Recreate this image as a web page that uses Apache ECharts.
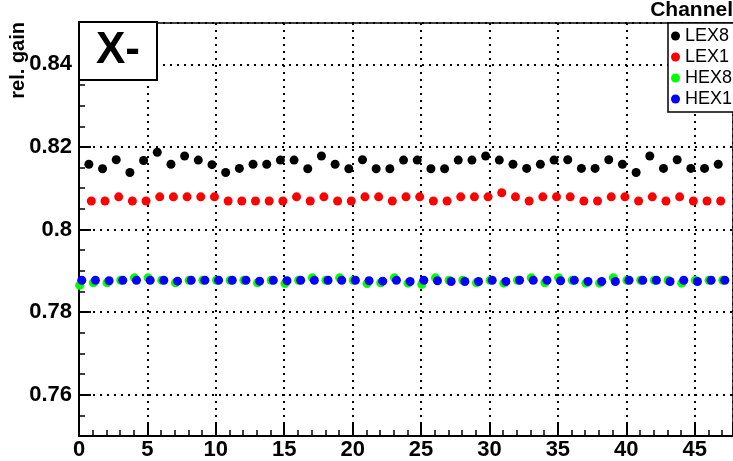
<!DOCTYPE html>
<html><head><meta charset="utf-8">
<script src="https://cdn.jsdelivr.net/npm/echarts@6/dist/echarts.min.js"></script>
<style>html,body{margin:0;padding:0;background:#fff}#c{width:733px;height:461px}</style>
</head><body><div id="c"></div>
<script>
// channel numbers
const channels = [0,1,2,3,4,5,6,7,8,9,10,11,12,13,14,15,16,17,18,19,20,21,22,23,24,25,26,27,28,29,30,31,32,33,34,35,36,37,38,39,40,41,42,43,44,45,46,47];
// x shift of each series' markers (as drawn in the original)
const xShift = {LEX8: 0.72, LEX1: 0.9, HEX8: 0.05, HEX1: 0.2};
// relative gain values
const lex8 = [0.8158,0.8147,0.8169,0.8138,0.8167,0.8187,0.8158,0.8178,0.8168,0.8157,0.8138,0.8148,0.8158,0.8158,0.8168,0.8168,0.8147,0.8178,0.8158,0.8147,0.8169,0.8147,0.8147,0.8168,0.8168,0.8147,0.8147,0.8168,0.8168,0.8178,0.8168,0.8158,0.8148,0.8158,0.8168,0.8169,0.8148,0.8148,0.8169,0.8158,0.8138,0.8178,0.8148,0.8169,0.8148,0.8148,0.8158];
const lex1 = [0.8069,0.8069,0.8079,0.8069,0.8069,0.8079,0.8079,0.8079,0.8079,0.8079,0.8069,0.8069,0.8069,0.8069,0.8069,0.8079,0.8069,0.8079,0.8069,0.8069,0.8079,0.8079,0.8069,0.8079,0.8079,0.8069,0.8069,0.8079,0.8079,0.8079,0.8089,0.8079,0.8069,0.8079,0.8079,0.8079,0.8069,0.8069,0.8079,0.8079,0.8069,0.8079,0.8069,0.8079,0.8069,0.8069,0.8069];
const hex8 = [0.7865,0.7871,0.7871,0.7877,0.7883,0.7883,0.7877,0.7871,0.7877,0.7877,0.7877,0.7877,0.7877,0.7871,0.7877,0.7869,0.7877,0.7883,0.7877,0.7883,0.7877,0.7869,0.7871,0.7883,0.7870,0.7867,0.7883,0.7877,0.7877,0.7871,0.7877,0.7870,0.7877,0.7883,0.7871,0.7883,0.7877,0.7870,0.7870,0.7883,0.7877,0.7877,0.7877,0.7877,0.7870,0.7877,0.7877,0.7877];
const hex1 = [0.7877,0.7877,0.7876,0.7877,0.7877,0.7877,0.7877,0.7875,0.7877,0.7877,0.7877,0.7877,0.7877,0.7875,0.7877,0.7876,0.7877,0.7877,0.7877,0.7877,0.7877,0.7876,0.7875,0.7877,0.7874,0.7877,0.7876,0.7874,0.7874,0.7874,0.7877,0.7874,0.7877,0.7877,0.7877,0.7876,0.7877,0.7874,0.7874,0.7874,0.7877,0.7877,0.7877,0.7874,0.7877,0.7874,0.7877,0.7877];
const seriesNames = ['LEX8','LEX1','HEX8','HEX1'];
const seriesColors = {LEX8:'#000000', LEX1:'#ff0000', HEX8:'#00ff00', HEX1:'#0000ff'};
const seriesValues = {LEX8: lex8, LEX1: lex1, HEX8: hex8, HEX1: hex1};
const titleText = 'X-';
const xTitle = 'Channel';
const yTitle = 'rel. gain';

const FONT = 'Liberation Sans';
const chart = echarts.init(document.getElementById('c'), null, {renderer: 'canvas'});

function pts(name) {
  return seriesValues[name].map((v, i) => [channels[i] + xShift[name], v]);
}

const option = {
  animation: false,
  backgroundColor: '#fff',
  grid: {left: 79, right: 0, top: 23, bottom: 23.4, show: true, borderColor: '#000', borderWidth: 1.5, backgroundColor: 'transparent'},
  title: {
    text: titleText, left: 79, top: 22,
    padding: [7, 17, 7, 17],
    borderColor: '#000', borderWidth: 2, backgroundColor: '#fff',
    textStyle: {fontFamily: FONT, fontWeight: 'bold', fontSize: 44, color: '#000', lineHeight: 44}
  },
  legend: {
    data: ['LEX8','LEX1','HEX8','HEX1'],
    orient: 'vertical', left: 668, top: 23,
    padding: [4, 8, 4, 3], itemGap: 3,
    itemWidth: 9, itemHeight: 9, icon: 'circle',
    borderColor: '#000', borderWidth: 1.5, backgroundColor: '#fff',
    textStyle: {fontFamily: FONT, fontSize: 18, color: '#000', lineHeight: 18}
  },
  xAxis: {
    type: 'value', min: 0, max: 47.8, interval: 5,
    axisLine: {show: true, lineStyle: {color: '#000', width: 2}},
    axisTick: {show: true, inside: true, length: 12, lineStyle: {color: '#000', width: 2}},
    minorTick: {show: true, splitNumber: 5, length: 6, lineStyle: {color: '#000', width: 1.5}},
    axisLabel: {showMaxLabel: false, fontFamily: FONT, fontWeight: 'bold', fontSize: 22, color: '#000', margin: 3},
    splitLine: {show: true, lineStyle: {color: '#000', width: 2, type: [2, 5]}}
  },
  yAxis: {
    type: 'value', min: 0.75, max: 0.85, splitNumber: 5,
    axisLine: {show: true, lineStyle: {color: '#000', width: 2}},
    axisTick: {show: true, inside: true, length: 12, lineStyle: {color: '#000', width: 2}},
    minorTick: {show: true, splitNumber: 4, length: 6, lineStyle: {color: '#000', width: 1.5}},
    axisLabel: {showMinLabel: false, showMaxLabel: false, fontFamily: FONT, fontWeight: 'bold', fontSize: 22, color: '#000', margin: 7},
    splitLine: {show: true, lineStyle: {color: '#000', width: 2, type: [2, 5]}}
  },
  graphic: [
    {type: 'text', right: 0, top: 0, style: {text: xTitle, font: 'bold 21px "Liberation Sans"', fill: '#000'}},
    {type: 'text', x: 18, y: 22, rotation: Math.PI / 2,
     style: {text: yTitle, font: 'bold 20px "Liberation Sans"', fill: '#000', align: 'right', verticalAlign: 'middle'}}
  ],
  series: seriesNames.map(name => ({
    name: name, type: 'scatter', symbol: 'circle', symbolSize: 9,
    itemStyle: {color: seriesColors[name], opacity: 1},
    data: pts(name)
  }))
};
chart.setOption(option);
</script></body></html>
